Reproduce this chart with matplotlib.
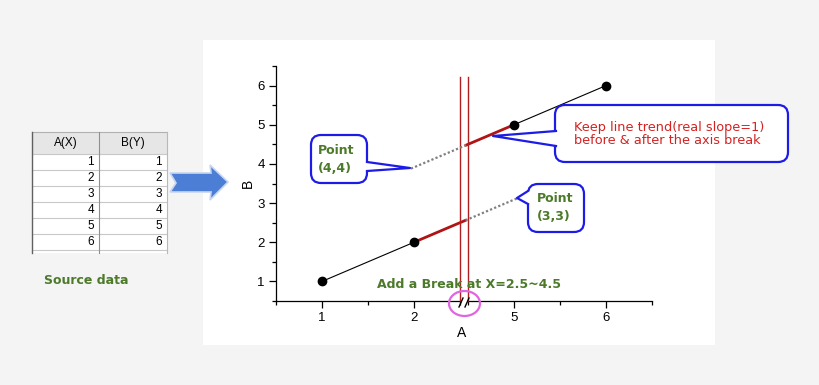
import matplotlib
matplotlib.use("Agg")
import matplotlib.pyplot as plt
import matplotlib.transforms as mtransforms
from matplotlib.patches import FancyBboxPatch, Polygon, Ellipse, Rectangle
from matplotlib.lines import Line2D
from matplotlib.ticker import MultipleLocator

# source data (worksheet on the left)
headers = ["A(X)", "B(Y)"]
col_a = [1, 2, 3, 4, 5, 6]
col_b = [1, 2, 3, 4, 5, 6]

# axis break and ticks
break_from, break_to = 2.5, 4.5
x_ticks_left = [1, 2]
x_ticks_right = [5, 6]
y_ticks = [1, 2, 3, 4, 5, 6]

# pieces of the trend line next to the break (slope 1, so y = x)
red_lo = [2, 2.56]
dot_lo = [2.56, 3.12]
dot_hi = [3.88, 4.48]
red_hi = [4.48, 5]

GREEN = "#4c7a2a"
BLUE = "#1c1ce6"
DARKRED = "#b01515"

W, H = 820, 385
fig = plt.figure(figsize=(W / 100, H / 100), dpi=100)
fig.patch.set_facecolor("#f4f4f4")
# pixel coords, y going down, like the picture
PX = mtransforms.Affine2D().scale(1 / W, -1 / H).translate(0, 1) + fig.transFigure

fig.add_artist(Rectangle((203, 40), 512, 305, transform=PX, fc="white", ec="none", zorder=-2))

# ---- the two halves of the broken x axis
ax1 = fig.add_axes([276 / W, 1 - 301 / H, (460 - 276) / W, (301 - 66) / H])
ax2 = fig.add_axes([468 / W, 1 - 301 / H, (652 - 468) / W, (301 - 66) / H])
for ax in (ax1, ax2):
    ax.set_facecolor("none")
    ax.set_ylim(0.5, 6.5)
    for s in ("top", "right"):
        ax.spines[s].set_visible(False)
    ax.spines["bottom"].set_linewidth(0.9)
    ax.spines["left"].set_linewidth(0.9)
    ax.xaxis.set_minor_locator(MultipleLocator(0.5))
    ax.tick_params(which="major", direction="out", length=5, width=0.9, labelsize=9.5, pad=3)
    ax.tick_params(which="minor", direction="out", length=3, width=0.9)
    # full data; points inside the break fall outside both halves
    ax.plot(col_a, col_b, color="black", lw=0.8, zorder=2)
    ax.plot(col_a, col_b, "o", color="black", ms=6, zorder=4)

ax1.set_xlim(0.5, break_from)
ax2.set_xlim(break_to, 6.5)
ax1.set_xticks(x_ticks_left)
ax2.set_xticks(x_ticks_right)
ax1.set_yticks(y_ticks)
ax1.yaxis.set_minor_locator(MultipleLocator(0.5))
ax2.spines["left"].set_visible(False)
ax2.tick_params(axis="y", which="both", left=False, labelleft=False)
for ax in (ax1, ax2):
    for lab in ax.get_xticklabels() + ax.get_yticklabels():
        lab.set_fontfamily("Liberation Sans")

ax1.plot(red_lo, red_lo, color=DARKRED, lw=2, clip_on=False, zorder=3)
ax2.plot(red_hi, red_hi, color=DARKRED, lw=2, clip_on=False, zorder=3)
ax1.plot(dot_lo, dot_lo, color="#808080", lw=1.6, ls=(0, (1, 1)), clip_on=False, zorder=3)
ax2.plot(dot_hi, dot_hi, color="#808080", lw=1.6, ls=(0, (1, 1)), clip_on=False, zorder=3)

# break boundaries
ax1.plot([break_from, break_from], [0.5, 6.22], color="#b02020", lw=1, clip_on=False, zorder=3)
ax2.plot([break_to, break_to], [0.5, 6.22], color="#b02020", lw=1, clip_on=False, zorder=3)

fig.text(462, 333, "A", transform=PX, ha="center", va="center", fontsize=10, family="Liberation Sans")
fig.text(248, 183, "B", transform=PX, ha="center", va="center", fontsize=10, rotation=90,
         family="Liberation Sans")

# break symbol
for x0 in (459, 465):
    fig.add_artist(Line2D([x0, x0 + 4], [307, 298], transform=PX, color="black", lw=1, zorder=5))
fig.add_artist(Ellipse((464.5, 303.5), 31, 25, transform=PX, fc="none", ec="#e066e0", lw=1.6, zorder=5))
fig.text(377, 285, "Add a Break at X=2.5~4.5", transform=PX, ha="left", va="center",
         fontsize=9, fontweight="bold", color=GREEN, zorder=6)


def callout(x0, y0, x1, y1, base, tip, inset):
    box = FancyBboxPatch((x0, y0), x1 - x0, y1 - y0, boxstyle="round,pad=0,rounding_size=10",
                         transform=PX, fc="white", ec=BLUE, lw=1.6, zorder=5)
    fig.add_artist(box)
    (bx0, by0), (bx1, by1) = base
    tail = Polygon([(bx0, by0), tip, (bx1, by1), (bx1 + inset, by1), (bx0 + inset, by0)],
                   closed=True, transform=PX, fc="white", ec="none", zorder=5)
    fig.add_artist(tail)
    fig.add_artist(Line2D([bx0, tip[0], bx1], [by0, tip[1], by1], transform=PX,
                          color=BLUE, lw=1.6, zorder=5))


callout(311, 135, 367, 183, [(367, 162), (367, 171)], (410, 168), -3)
fig.text(318, 151, "Point", transform=PX, va="center", fontsize=9, fontweight="bold", color=GREEN, zorder=6)
fig.text(318, 168, "(4,4)", transform=PX, va="center", fontsize=9, fontweight="bold", color=GREEN, zorder=6)

callout(528, 184, 584, 232, [(528, 191), (528, 204)], (517, 198), 3)
fig.text(537, 199, "Point", transform=PX, va="center", fontsize=9, fontweight="bold", color=GREEN, zorder=6)
fig.text(537, 216, "(3,3)", transform=PX, va="center", fontsize=9, fontweight="bold", color=GREEN, zorder=6)

callout(555, 105, 788, 162, [(556, 131), (556, 146)], (493, 136), 3)
fig.text(574, 127, "Keep line trend(real slope=1)", transform=PX, va="center", fontsize=9.3,
         color="#d42222", zorder=6)
fig.text(574, 141, "before & after the axis break", transform=PX, va="center", fontsize=9.3,
         color="#d42222", zorder=6)

# ---- worksheet
tx = [32, 99, 167]
ty0, ty1, row_h = 132, 154, 16
fig.add_artist(Rectangle((tx[0], ty0), tx[2] - tx[0], ty1 - ty0, transform=PX,
                         fc="#e6e6e6", ec="none", zorder=1))
fig.add_artist(Rectangle((tx[0], ty1), tx[2] - tx[0], 99, transform=PX,
                         fc="white", ec="none", zorder=1))
for j, h in enumerate(headers):
    fig.text((tx[j] + tx[j + 1]) / 2, (ty0 + ty1) / 2, h, transform=PX, ha="center", va="center",
             fontsize=8.5, family="Liberation Sans", zorder=3)
for i, (a, b) in enumerate(zip(col_a, col_b)):
    yc = ty1 + row_h * (i + 0.5)
    fig.text(tx[1] - 5, yc, str(a), transform=PX, ha="right", va="center", fontsize=8.5,
             family="Liberation Sans", zorder=3)
    fig.text(tx[2] - 5, yc, str(b), transform=PX, ha="right", va="center", fontsize=8.5,
             family="Liberation Sans", zorder=3)
for i in range(len(col_a) + 1):
    yl = ty1 + row_h * i
    fig.add_artist(Line2D([tx[0], tx[2]], [yl, yl], transform=PX, color="#c8c8c8", lw=0.8, zorder=2))
fig.add_artist(Line2D([tx[0], tx[2]], [ty0, ty0], transform=PX, color="#b0b0b0", lw=0.8, zorder=2))
fig.add_artist(Line2D([tx[0], tx[0]], [ty0, 253], transform=PX, color="#606060", lw=1, zorder=2))
fig.add_artist(Line2D([tx[1], tx[1]], [ty0, 253], transform=PX, color="#909090", lw=0.8, zorder=2))
fig.add_artist(Line2D([tx[2], tx[2]], [ty0, 253], transform=PX, color="#b8b8b8", lw=0.8, zorder=2))

fig.text(44, 281, "Source data", transform=PX, va="center", fontsize=9, fontweight="bold", color=GREEN)

# arrow from the sheet to the graph
fig.add_artist(Polygon([(170, 173), (211, 173), (210, 165), (228, 182), (210, 200), (211, 192),
                        (170, 192), (176, 183)], closed=True, transform=PX,
                       fc="#4d7ed6", ec="#c8d6ee", lw=1.2, zorder=3))

fig.savefig("out.png", dpi=100)
